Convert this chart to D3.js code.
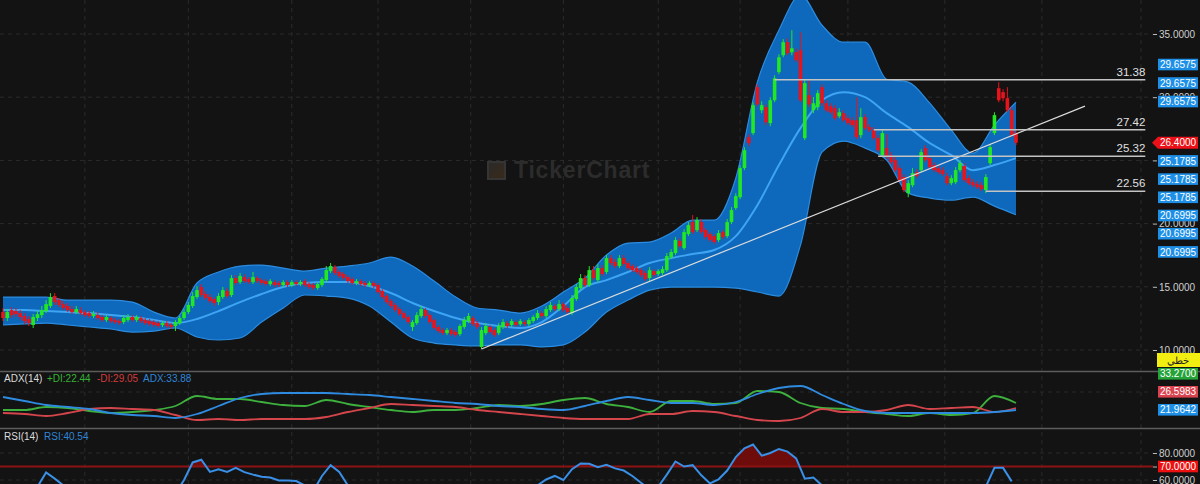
<!DOCTYPE html>
<html><head><meta charset="utf-8">
<script src="https://cdn.jsdelivr.net/npm/d3@7"></script>
<style>
html,body{margin:0;padding:0;background:#131313;overflow:hidden}
svg{display:block}
text{font-family:"Liberation Sans",Arial,sans-serif}
</style></head><body>
<svg id="c" width="1200" height="484"></svg>
<script>
// ---------- DATA ----------
const opens=[13.00,12.53,13.16,13.08,12.92,12.69,12.45,11.98,12.53,12.76,
13.08,13.48,14.27,13.95,13.63,13.48,13.24,13.00,13.16,13.00,
12.92,12.69,12.76,12.61,12.37,12.53,12.37,12.29,12.21,12.37,
12.61,12.37,12.53,12.37,12.29,12.21,12.13,11.98,12.13,11.98,
11.90,12.13,12.53,13.00,13.48,14.19,14.98,14.43,14.19,14.03,
13.79,14.19,14.66,14.35,15.69,15.37,15.77,15.61,15.37,15.69,
15.53,15.45,15.22,15.37,15.30,15.14,15.37,15.14,15.37,15.22,
15.45,15.22,15.14,14.90,15.14,15.53,16.24,16.56,16.17,16.01,
15.77,15.61,15.30,15.45,15.30,15.14,15.30,15.14,14.66,14.27,
13.87,13.56,13.24,12.92,12.61,11.82,12.13,12.69,13.16,12.76,
12.37,11.82,11.58,11.34,11.58,11.42,11.26,11.82,12.29,12.53,
12.13,10.24,11.34,11.82,11.58,11.34,11.82,12.13,11.98,12.21,
12.05,12.21,12.05,12.29,12.53,12.92,12.69,13.16,13.48,13.24,
13.63,13.32,12.92,14.03,14.90,15.69,15.14,16.32,15.53,16.48,
16.17,17.27,16.96,16.64,17.27,16.88,16.64,16.48,16.32,16.09,
15.69,16.24,16.01,16.09,16.32,17.35,17.67,18.62,18.06,19.17,
20.12,19.49,20.12,19.49,19.17,19.01,18.70,19.33,19.01,20.12,
21.23,22.09,24.39,26.84,27.16,30.79,28.97,29.21,27.95,29.76,
31.98,33.32,34.35,33.56,33.56,33.72,26.76,30.16,28.97,29.21,
30.79,29.52,29.29,29.13,28.50,28.73,28.34,28.18,28.18,27.00,
28.42,27.63,27.39,26.76,25.41,25.97,25.41,25.02,24.39,23.68,
22.41,23.04,24.07,24.23,25.97,25.18,24.62,24.39,24.23,23.76,
23.20,23.28,24.23,24.55,23.60,23.28,23.12,23.04,22.65,24.78,
27.16,30.71,30.40,29.92,28.97,27.16];
const highs=[13.32,13.24,13.40,13.32,13.16,12.92,12.69,12.84,13.08,13.48,
13.95,14.50,14.50,14.11,13.87,13.71,13.48,13.48,13.40,13.16,
13.08,13.08,13.00,12.76,12.76,12.69,12.53,12.45,12.76,12.84,
12.76,12.76,12.69,12.53,12.45,12.37,12.29,12.29,12.29,12.13,
12.37,12.69,13.24,13.79,14.58,15.06,15.22,14.66,14.43,14.19,
14.50,14.98,14.90,15.93,15.93,16.09,16.01,15.77,16.17,15.85,
15.69,15.61,15.61,15.53,15.45,15.53,15.53,15.53,15.53,15.53,
15.61,15.37,15.30,15.37,15.77,16.64,16.88,16.72,16.32,16.17,
15.93,15.77,15.61,15.61,15.45,15.45,15.45,15.30,14.82,14.43,
14.03,13.71,13.40,13.08,12.76,12.37,13.00,13.48,13.32,12.92,
12.53,11.98,11.74,11.74,11.74,11.58,12.05,12.61,12.92,12.69,
12.29,11.82,12.13,11.98,11.74,12.13,12.45,12.29,12.45,12.37,
12.45,12.37,12.53,12.76,13.16,13.08,13.48,13.79,13.63,13.95,
13.79,13.48,14.35,15.22,16.01,15.93,16.64,16.64,16.80,16.72,
17.51,17.51,17.19,17.51,17.51,17.04,16.80,16.64,16.48,16.24,
16.56,16.40,16.40,16.64,17.67,17.99,18.93,18.85,19.56,20.12,
20.67,20.51,20.36,19.64,19.33,19.17,19.49,19.49,20.36,21.30,
22.41,24.62,26.05,27.08,29.60,31.03,29.68,29.44,30.00,31.74,
33.40,34.59,34.66,35.30,33.87,35.14,31.34,31.34,30.02,30.55,
31.03,29.76,29.52,29.37,29.13,28.97,28.58,28.42,30.00,29.13,
28.66,27.87,27.63,27.00,27.39,27.08,25.65,25.26,24.62,23.91,
23.44,24.39,24.31,25.89,26.21,25.41,24.86,24.62,24.47,23.99,
23.83,24.47,25.02,24.78,23.83,23.52,23.36,23.28,23.91,26.29,
28.81,31.19,30.63,30.79,29.21,27.39];
const lows=[12.29,12.29,12.53,12.61,12.37,12.05,11.90,11.74,12.29,12.53,
12.92,13.32,13.56,13.40,13.16,13.00,12.84,12.84,12.76,12.61,
12.53,12.53,12.37,12.21,12.21,12.13,12.05,11.98,12.05,12.21,
12.21,12.21,12.13,11.98,11.90,11.82,11.74,11.82,11.74,11.66,
11.50,11.98,12.37,12.84,13.32,14.03,14.19,13.95,13.71,13.48,
13.56,14.03,14.11,14.19,15.14,15.22,15.30,15.22,15.22,15.30,
15.14,15.06,15.06,14.98,14.98,14.98,14.98,14.98,15.06,15.06,
14.98,14.82,14.74,14.74,14.98,15.37,16.09,15.93,15.69,15.53,
15.30,15.14,15.14,15.06,14.98,14.98,14.90,14.43,14.03,13.63,
13.32,13.00,12.69,12.37,12.05,11.50,11.98,12.53,12.53,12.05,
11.58,11.34,11.18,11.18,11.11,11.03,11.11,11.66,12.13,11.90,
11.66,10.08,11.18,11.26,11.03,11.18,11.66,11.74,11.82,11.82,
11.90,11.90,11.90,12.13,12.37,12.53,12.53,13.00,13.08,13.08,
13.00,12.84,12.76,13.87,14.74,14.98,14.98,15.53,15.37,15.85,
16.01,16.72,16.48,16.48,16.64,16.32,16.17,16.01,15.77,15.45,
15.45,15.77,15.85,15.93,16.17,17.19,17.51,18.06,17.91,19.01,
19.17,19.33,19.17,18.77,18.54,18.38,18.54,18.77,18.85,19.96,
21.07,21.93,24.23,26.13,27.00,29.29,28.73,27.79,27.71,29.60,
31.82,33.16,33.32,33.32,32.77,29.60,26.60,29.21,28.73,28.97,
29.29,28.81,28.66,28.18,28.34,28.02,27.79,27.63,26.68,26.76,
27.39,27.24,26.60,25.65,25.26,25.10,24.70,24.07,23.28,22.49,
22.09,22.88,23.60,24.07,24.86,24.31,24.07,23.91,23.76,23.04,
23.04,23.12,24.07,23.28,23.04,22.88,22.73,22.57,22.41,24.62,
27.00,29.60,29.68,28.81,26.84,26.21];
const closes=[12.53,13.00,12.76,12.84,12.61,12.29,12.13,12.61,12.84,13.16,
13.63,14.19,13.79,13.56,13.32,13.16,13.00,13.24,12.92,12.76,
12.69,12.84,12.53,12.37,12.61,12.29,12.21,12.13,12.53,12.61,
12.37,12.61,12.29,12.13,12.05,11.98,11.90,12.13,11.90,11.82,
12.21,12.53,13.00,13.56,14.27,14.74,14.35,14.11,13.87,13.71,
14.27,14.74,14.27,15.69,15.30,15.85,15.45,15.37,15.77,15.45,
15.30,15.22,15.45,15.14,15.14,15.37,15.14,15.37,15.22,15.37,
15.14,14.98,14.90,15.22,15.61,16.32,16.64,16.09,15.85,15.69,
15.45,15.30,15.45,15.22,15.14,15.30,15.06,14.58,14.19,13.79,
13.48,13.16,12.84,12.53,12.21,12.21,12.76,13.24,12.69,12.21,
11.74,11.50,11.34,11.58,11.26,11.18,11.90,12.37,12.69,12.05,
11.82,11.58,11.90,11.42,11.18,11.90,12.21,11.90,12.29,11.98,
12.29,12.05,12.37,12.61,12.92,12.69,13.24,13.56,13.24,13.63,
13.16,13.00,14.11,14.98,15.69,15.14,16.32,15.69,16.48,16.01,
17.27,16.88,16.64,17.27,16.80,16.48,16.32,16.17,15.93,15.61,
16.32,15.93,16.24,16.40,17.43,17.75,18.70,18.22,19.33,19.88,
19.33,20.28,19.33,18.93,18.70,18.54,19.25,18.93,20.12,21.07,
22.17,24.39,25.81,26.37,29.37,29.44,29.37,28.02,29.76,31.50,
33.16,34.35,33.48,33.87,32.93,29.76,31.11,29.44,29.52,30.32,
29.52,28.97,28.81,28.34,28.81,28.18,27.95,27.79,26.84,28.42,
27.55,27.39,26.76,25.81,27.16,25.26,24.86,24.23,23.44,22.65,
23.20,23.99,23.76,25.65,25.02,24.47,24.23,24.07,23.91,23.20,
23.60,24.23,24.78,23.44,23.20,23.04,22.88,22.73,23.68,26.05,
28.58,29.76,29.92,28.97,27.00,26.40];

// Bollinger bands, read every 5th bar
const bbUpper=[14.19,14.19,14.19,13.95,13.95,13.95,13.79,13.00,12.53,15.30,
16.17,16.64,16.72,16.48,16.24,16.48,16.64,16.88,17.35,16.64,
15.45,14.19,13.32,13.16,12.92,13.48,14.58,15.69,17.51,18.46,
18.54,19.25,20.28,20.28,23.60,31.19,35.30,38.06,35.69,34.35,
34.35,31.42,31.19,29.53,27.39,25.57,27.79,29.60];
const bbMiddle=[13.16,13.16,13.08,13.00,12.92,12.77,12.61,12.37,12.13,12.45,
13.08,13.79,14.43,14.98,15.30,15.38,15.38,15.06,14.51,13.72,
13.08,12.53,12.13,11.90,11.74,12.21,13.48,14.98,15.53,16.17,
16.88,17.27,17.59,17.91,19.01,21.46,24.63,27.55,29.76,30.40,
30.00,28.74,27.63,26.36,25.41,24.23,24.63,25.18];
const bbLower=[11.98,12.06,12.13,11.98,11.82,11.66,11.42,11.50,11.74,11.03,
10.79,10.95,12.21,13.32,14.35,14.27,14.11,13.48,12.21,10.95,
10.55,10.40,10.32,10.40,10.40,10.24,10.40,11.42,13.00,13.95,
14.74,14.98,14.98,14.98,14.90,14.59,14.27,18.30,25.65,26.52,
25.97,25.02,22.41,22.02,21.86,22.10,21.38,20.70];

// ADX(14) lines, read every 5th bar
const adxLine=[31,27,23,21,19,15,13,12,10,14,22,30,34,35,35,35,34,33,31,29,
27,25,24,22,21,19,18,22,27,31,28,25,25,23,26,34,40,42,33,24,
17,15,15,15,15,15,16,18];
const plusDI=[18,18,21,20,17,15,16,18,22,32,29,29,26,23,22,28,24,21,18,16,
18,18,20,23,22,24,28,30,24,21,16,27,27,24,25,37,36,25,20,19,
16,14,12,15,13,15,32,25];
const minusDI=[15,14,12,15,19,20,19,18,13,8,9,8,9,9,9,11,16,20,24,23,
22,21,18,16,14,12,10,9,9,9,14,14,17,16,12,8,7,10,19,16,
16,18,23,19,20,21,16,20];

// RSI(14), read every 2nd bar
const rsiLine=[50,48,47,50,55,65.6,61,56,52,48,
46,44,45,43,46,44,42,40,41,45,
50,60,73,75,66,68,66,69,65.8,64,
62.4,61.9,59.6,59.6,59.2,56,52,63,71,66,
56,52,50,47,44,40,37,35,40,42,
38,36,35,40,44,43,48,46,49,50,
52,51,56,60.4,63,60,68,72.2,72,69.5,
71.3,68.6,67,63,58,53,55,64,73.7,70,
71,63.5,57.5,60.5,67,77,83.5,86.3,78,80,
83,81,76,61,61.9,56,52,48,45,44,
42,40,38,37,35,38,40,38,37,36,
38,40,39,37,55,69,69,59];

// drawings
const levelValues=[31.38,27.42,25.32,22.56];
const levelStart=[179,202,203,228];
const levelEnd=265;
const trendIdx=[111,251];
const trendPrice=[10.08,29.29];
const gridIdx=[19,43,67,87,108.5,130,152,171,196,218.5,241,264];
const priceTicks=[10,15,20,25,30,35];
const rsiTicks=[60,70,80];
const upperTags=[29.6575,29.6575,29.6575];
const lastPrice=26.40;
const lowerTags=[25.1785,25.1785,25.1785,20.6995,20.6995,20.6995];
const adxTags=[{t:"33.2700",c:"#25a338"},{t:"26.5983",c:"#d9434f"},{t:"21.9642",c:"#1e8fe6"}];
const trendTag="خطي";

// ---------- CHART ----------
const svg=d3.select('#c');
const x=d3.scaleLinear().domain([0,235]).range([3,1016]);
const yP=d3.scaleLinear().domain([10,35]).range([350,34]);
const yA=d3.scaleLinear().domain([0,56]).range([428,372]);
const yR=d3.scaleLinear().domain([60,80]).range([480,453]);
const AX=1153;

svg.append('rect').attr('width',1200).attr('height',484).attr('fill','#131313');
const defs=svg.append('defs');
defs.append('clipPath').attr('id','cm').append('rect').attr('x',0).attr('y',0).attr('width',AX).attr('height',370);
defs.append('clipPath').attr('id','ca').append('rect').attr('x',0).attr('y',372).attr('width',AX).attr('height',56);
defs.append('clipPath').attr('id','cr').append('rect').attr('x',0).attr('y',429).attr('width',AX).attr('height',55);
defs.append('clipPath').attr('id','co').append('rect').attr('x',0).attr('y',429).attr('width',AX).attr('height',yR(70)-429);

// grid
const grid=svg.append('g').attr('stroke','#2b2b2b').attr('stroke-dasharray','4,4').attr('stroke-width',1);
gridIdx.forEach(g=>grid.append('line').attr('x1',x(g)).attr('x2',x(g)).attr('y1',0).attr('y2',484));
priceTicks.forEach(t=>grid.append('line').attr('x1',0).attr('x2',AX).attr('y1',yP(t)).attr('y2',yP(t)));
grid.append('line').attr('x1',0).attr('x2',AX).attr('y1',yA(36)).attr('y2',yA(36));
[60,80].forEach(t=>grid.append('line').attr('x1',0).attr('x2',AX).attr('y1',yR(t)).attr('y2',yR(t)));

// watermark
const wm=svg.append('g');
const lg=defs.append('linearGradient').attr('id','wmg').attr('x1',0).attr('y1',0).attr('x2',1).attr('y2',1);
lg.append('stop').attr('offset','0').attr('stop-color','#2a2a2a');
lg.append('stop').attr('offset','1').attr('stop-color','#3a2a18');
wm.append('rect').attr('x',488).attr('y',162).attr('width',17).attr('height',17).attr('fill','url(#wmg)').attr('stroke','#353535').attr('stroke-width',2);
wm.append('text').attr('x',514).attr('y',178).text('TickerChart').attr('font-family','DejaVu Sans').attr('font-weight','bold').attr('font-size',23).attr('letter-spacing',0.8).attr('fill','#2c2c2c');

// main panel
const main=svg.append('g').attr('clip-path','url(#cm)');
const bIdx=d3.range(0,236,5);
const band=main.append('g');
band.append('path').datum(bIdx.map((d,i)=>[d,bbLower[i],bbUpper[i]]))
  .attr('d',d3.area().x(d=>x(d[0])).y0(d=>yP(d[1])).y1(d=>yP(d[2])).curve(d3.curveMonotoneX))
  .attr('fill','#0e68bb');
[bbUpper,bbLower].forEach(arr=>{
  band.append('path').datum(bIdx.map((d,i)=>[d,arr[i]]))
   .attr('d',d3.line().x(d=>x(d[0])).y(d=>yP(d[1])).curve(d3.curveMonotoneX))
   .attr('fill','none').attr('stroke','#2b8ce0').attr('stroke-width',1.2);
});
band.append('path').datum(bIdx.map((d,i)=>[d,bbMiddle[i]]))
  .attr('d',d3.line().x(d=>x(d[0])).y(d=>yP(d[1])).curve(d3.curveMonotoneX))
  .attr('fill','none').attr('stroke','#3ea5f5').attr('stroke-width',2);

// candles
const cg=main.append('g');
closes.forEach((c,i)=>{
  const o=opens[i], up=c>=o, col=up?'#22e822':'#e8141c';
  cg.append('line').attr('x1',x(i)).attr('x2',x(i)).attr('y1',yP(highs[i])).attr('y2',yP(lows[i])).attr('stroke',col).attr('stroke-width',1);
  const t=yP(Math.max(o,c)), b=yP(Math.min(o,c));
  cg.append('rect').attr('x',x(i)-1.8).attr('width',3.6).attr('y',t).attr('height',Math.max(1.2,b-t)).attr('fill',col);
});

// trend line and levels
main.append('line').attr('x1',x(trendIdx[0])).attr('y1',yP(trendPrice[0])).attr('x2',x(trendIdx[1])).attr('y2',yP(trendPrice[1]))
  .attr('stroke','#dcdcdc').attr('stroke-width',1.2);
levelValues.forEach((v,i)=>{
  main.append('line').attr('x1',x(levelStart[i])).attr('x2',x(levelEnd)).attr('y1',yP(v)).attr('y2',yP(v)).attr('stroke','#c4c4c4').attr('stroke-width',1.5);
  main.append('text').attr('x',x(levelEnd)).attr('y',yP(v)-4).attr('text-anchor','end').attr('font-size',11.5).attr('fill','#e0e0e0').text(v.toFixed(2));
});

// separators
[371.5,428.5].forEach(s=>svg.append('line').attr('x1',0).attr('x2',1200).attr('y1',s).attr('y2',s).attr('stroke','#5c5c5c').attr('stroke-width',1.5));

// ADX panel
const ap=svg.append('g').attr('clip-path','url(#ca)');
[[plusDI,'#3db03d'],[minusDI,'#d5464c'],[adxLine,'#2f8be0']].forEach(([arr,col])=>{
  ap.append('path').datum(bIdx.map((d,i)=>[d,arr[i]]))
   .attr('d',d3.line().x(d=>x(d[0])).y(d=>yA(d[1])).curve(d3.curveMonotoneX))
   .attr('fill','none').attr('stroke',col).attr('stroke-width',1.8);
});
const leg=svg.append('text').attr('x',4).attr('y',382).attr('font-size',10);
leg.append('tspan').attr('fill','#dddddd').text('ADX(14)');
leg.append('tspan').attr('x',47).attr('fill','#35b335').text('+DI:22.44');
leg.append('tspan').attr('x',97).attr('fill','#d23c3c').text('-DI:29.05');
leg.append('tspan').attr('x',143).attr('fill','#2f86d8').text('ADX:33.88');

// RSI panel
const rIdx=d3.range(0,235,2);
const rp=svg.append('g').attr('clip-path','url(#cr)');
const rdat=rIdx.map((d,i)=>[d,rsiLine[i]]);
rp.append('g').attr('clip-path','url(#co)').append('path').datum(rdat)
  .attr('d',d3.area().x(d=>x(d[0])).y0(yR(70)).y1(d=>yR(d[1])))
  .attr('fill','#6e0c0c');
rp.append('line').attr('x1',0).attr('x2',AX).attr('y1',yR(70)).attr('y2',yR(70)).attr('stroke','#8e1212').attr('stroke-width',2);
rp.append('path').datum(rdat).attr('d',d3.line().x(d=>x(d[0])).y(d=>yR(d[1])))
  .attr('fill','none').attr('stroke','#3a8fe6').attr('stroke-width',2);
const rl=svg.append('text').attr('x',4).attr('y',440).attr('font-size',10);
rl.append('tspan').attr('fill','#dddddd').text('RSI(14)');
rl.append('tspan').attr('x',44).attr('fill','#2f86d8').text('RSI:40.54');

// axes
function styleAxis(g){
  g.select('.domain').remove();
  g.selectAll('line').attr('stroke','#bbbbbb');
  g.selectAll('text').attr('fill','#cfcfcf').attr('font-size',10).attr('font-family','"Liberation Sans",Arial,sans-serif');
}
svg.append('g').attr('transform',`translate(${AX},0)`)
  .call(d3.axisRight(yP).tickValues(priceTicks).tickFormat(d3.format('.4f')).tickSize(4).tickPadding(2)).call(styleAxis);
svg.append('g').attr('transform',`translate(${AX},0)`)
  .call(d3.axisRight(yR).tickValues(rsiTicks).tickFormat(d3.format('.4f')).tickSize(4).tickPadding(2)).call(styleAxis);

// value tags
function tag(yc,txt,bg,fg){
  svg.append('rect').attr('x',1158).attr('y',yc-5.8).attr('width',40).attr('height',11.6).attr('fill',bg);
  svg.append('text').attr('x',1178).attr('y',yc+3.6).attr('text-anchor','middle').attr('font-size',10).attr('fill',fg||'#ffffff').text(txt);
}
let yy=yP(upperTags[0]);
upperTags.forEach((v,i)=>{ tag(yy,v.toFixed(4),'#1e8fe6'); yy-=18.5; });
const ly=yP(lastPrice);
svg.append('path').attr('d',`M1152,${ly} L1158,${ly-6} L1198,${ly-6} L1198,${ly+6} L1158,${ly+6} Z`).attr('fill','#ec1118');
svg.append('text').attr('x',1178).attr('y',ly+3.6).attr('text-anchor','middle').attr('font-size',10).attr('fill','#fff').text(lastPrice.toFixed(4));
let prev=ly;
lowerTags.forEach(v=>{ const p=Math.max(yP(v),prev+18.2); tag(p,v.toFixed(4),'#1e8fe6'); prev=p; });

// trend tag (yellow)
svg.append('rect').attr('x',1157).attr('y',353).attr('width',43).attr('height',14).attr('fill','#f2ee12');
svg.append('text').attr('x',1178).attr('y',364).attr('text-anchor','middle').attr('font-size',10).attr('fill','#222').attr('font-family','"Noto Sans",sans-serif').text(trendTag);
adxTags.forEach((d,i)=>tag(373.8+i*18,d.t,d.c));
tag(yR(70),'70.0000','#ec1010');
</script>
</body></html>
